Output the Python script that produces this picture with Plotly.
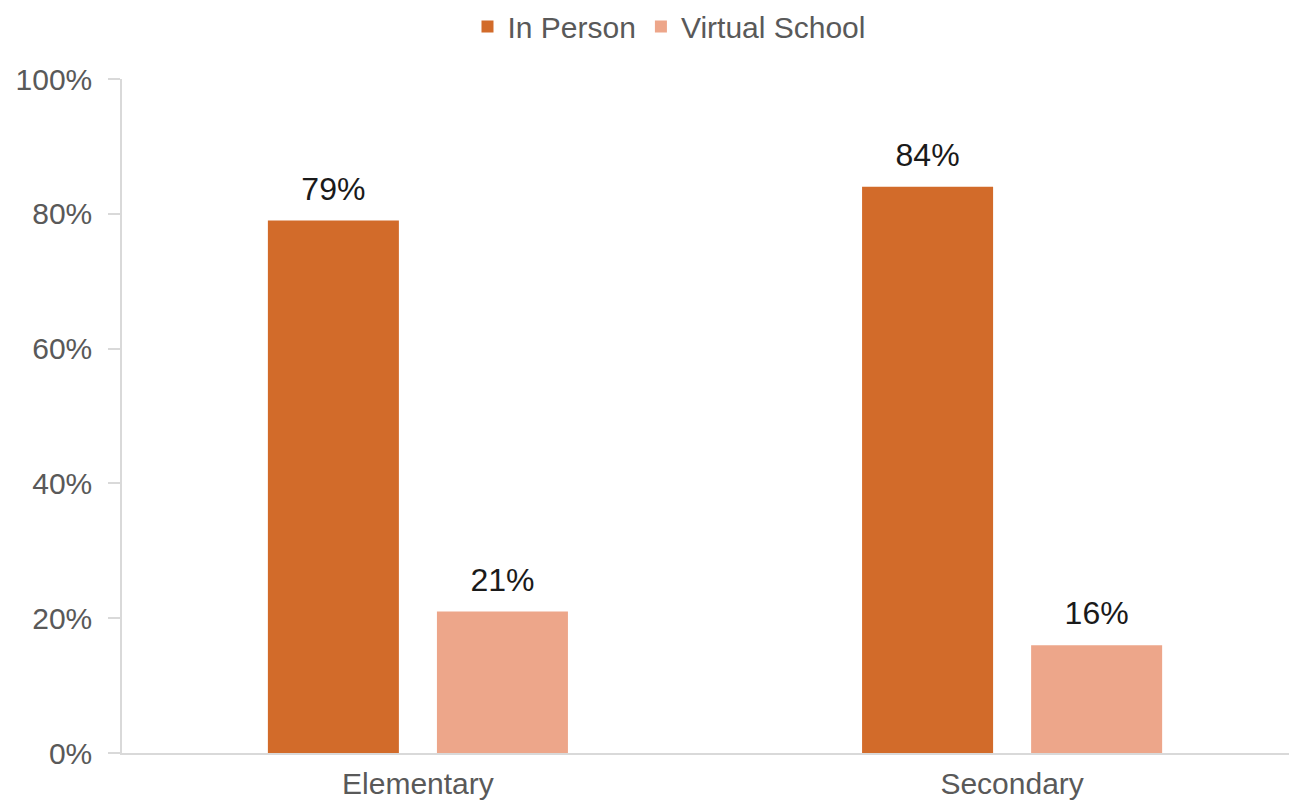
import plotly.graph_objects as go

categories = ["Elementary", "Secondary"]
in_person = [79, 84]
virtual_school = [21, 16]
series_names = ["In Person", "Virtual School"]
colors = ["#D26B2A", "#EDA68A"]

FONT = "Liberation Sans, Arial, sans-serif"

fig = go.Figure()
for i, (name, vals, col) in enumerate(zip(series_names, [in_person, virtual_school], colors)):
    fig.add_trace(go.Bar(
        x=categories, y=vals, name=name, marker_color=col,
        offsetgroup=str(i), marker_line_width=0,
    ))
for i, vals in enumerate([in_person, virtual_school]):
    fig.add_trace(go.Scatter(
        x=categories, y=vals, mode="markers+text", offsetgroup=str(i),
        text=[f"{v}%" for v in vals], textposition="top center",
        marker=dict(size=19, opacity=0), showlegend=False, hoverinfo="skip",
        textfont=dict(family=FONT, size=32, color="#1a1a1a"), cliponaxis=False,
    ))

fig.update_layout(
    width=1281, height=795,
    margin=dict(l=114, r=0, t=71, b=50, autoexpand=False),
    paper_bgcolor="white", plot_bgcolor="white",
    barmode="group", bargap=0.431, bargroupgap=0.225,
    scattermode="group", scattergap=0.431,
    font=dict(family=FONT, size=30, color="#595959"),
    legend=dict(orientation="h", x=0.516, xanchor="center", xref="container",
                y=1.078, yref="paper", yanchor="middle",
                font=dict(size=30, color="#595959"),
                itemwidth=30, traceorder="normal"),
    showlegend=True,
)
fig.update_xaxes(
    range=[-0.498, 1.466], showline=True, linecolor="#D9D9D9", linewidth=1.5,
    ticks="", showgrid=False, tickfont=dict(size=30, color="#595959"),
    ticklabelstandoff=3,
)
fig.update_yaxes(
    range=[0, 100], tickvals=[0, 20, 40, 60, 80, 100],
    ticktext=["0%", "20%", "40%", "60%", "80%", "100%"],
    showline=True, linecolor="#D9D9D9", linewidth=1.5,
    ticks="outside", ticklen=12, tickcolor="#D9D9D9", tickwidth=1.5,
    showgrid=False, zeroline=False, tickfont=dict(size=30, color="#595959"),
    ticklabelstandoff=10,
)

fig.write_html("out.html")
